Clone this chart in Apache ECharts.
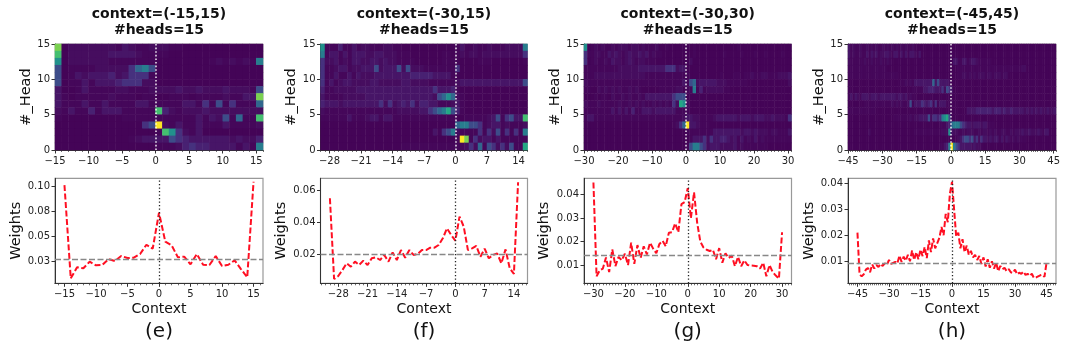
<!DOCTYPE html>
<html><head><meta charset="utf-8">
<style>html,body{margin:0;padding:0;background:#fff}#c{width:1073px;height:345px}</style>
<script src="https://cdn.jsdelivr.net/npm/echarts@6/dist/echarts.min.js"></script>
</head><body><div id="c"></div>
<script>
const titles = ["context=(-15,15)\n#heads=15","context=(-30,15)\n#heads=15","context=(-30,30)\n#heads=15","context=(-45,45)\n#heads=15"];
const captions = ["(e)","(f)","(g)","(h)"];
const ranges = [[-15,15],[-30,15],[-30,30],[-45,45]];
const xTicks = [[-15,-10,-5,0,5,10,15],[-28,-21,-14,-7,0,7,14],[-30,-20,-10,0,10,20,30],[-45,-30,-15,0,15,30,45]];
const headTicks = [0,5,10,15];
const weightTicks = [[0.025,0.05,0.075,0.1],[0.02,0.04,0.06],[0.01,0.02,0.03,0.04],[0.01,0.02,0.03,0.04]];
const weightLabels = [["0.03","0.05","0.08","0.10"],["0.02","0.04","0.06"],["0.01","0.02","0.03","0.04"],["0.01","0.02","0.03","0.04"]];
const weightRange = [[0.0036,0.1076],[0.0015,0.0678],[0.0022,0.047],[0.00154,0.0419]];
const lineRange = [[-16.5,16.5],[-32.25,17.25],[-33,33],[-49.5,49.5]];
const meanWeight = [0.0277,0.02,0.0143,0.0094];

const weightsE = [.1009,.0085,.0195,.0185,.025,.0214,.0217,.0276,.0257,.0306,.0286,.029,.0326,.0418,.0379,.0735,.0448,.0412,.0293,.03,.0224,.0326,.022,.0217,.0306,.0207,.022,.0263,.0177,.0095,.1042];
const weightsF = [.0552,.0042,.0061,.0099,.0141,.012,.0152,.0131,.0158,.013,.0173,.0179,.0162,.0194,.0152,.021,.0162,.0225,.0177,.0225,.0194,.02,.0225,.0225,.024,.024,.0257,.0299,.0362,.032,.0284,.0436,.0373,.0225,.0236,.0251,.0183,.0234,.0173,.0194,.0204,.0141,.0229,.011,.0074,.0653];
const weightsG = [.0452,.0052,.0077,.0085,.0132,.0070,.0167,.0095,.0135,.0120,.0148,.0100,.0195,.0105,.0185,.0130,.0180,.0145,.0195,.0170,.0150,.0190,.0203,.0180,.0238,.0240,.0278,.0240,.0360,.0368,.0428,.0300,.0410,.0280,.0200,.0175,.0165,.0160,.0165,.0125,.0172,.0110,.0150,.0130,.0140,.0095,.0135,.0095,.0120,.0100,.0098,.0097,.0095,.0085,.0110,.0052,.0100,.0070,.0055,.0042,.0240];
const weightsH = [.0210,.0050,.0042,.0050,.0068,.0074,.0058,.0088,.0072,.0086,.0078,.0090,.0082,.0092,.0086,.0105,.0090,.0094,.0098,.0092,.0122,.0098,.0118,.0102,.0125,.0100,.0142,.0105,.0135,.0108,.0145,.0120,.0155,.0112,.0180,.0135,.0188,.0150,.0170,.0190,.0232,.0200,.0282,.0250,.0360,.0405,.0300,.0195,.0210,.0150,.0185,.0135,.0160,.0125,.0140,.0115,.0125,.0105,.0120,.0090,.0115,.0080,.0108,.0075,.0100,.0072,.0095,.0062,.0082,.0070,.0075,.0062,.0070,.0058,.0055,.0068,.0050,.0056,.0052,.0060,.0048,.0052,.0044,.0052,.0036,.0038,.0042,.0046,.0048,.0040,.0095];

// intensity lookup for the heat rows below (one character per cell)
const levels = {0:.008,1:.018,2:.032,3:.055,4:.09,5:.14,6:.23,7:.33,8:.42,9:.5,a:.6,b:.7,c:.8,d:.9,e:1};
// rows listed top (head 14) to bottom (head 0); "|" marks context 0
const heatE = [
"c02222222132112|2211",
"b02222223333211|11",
"902222221111111|0000000012121218",
"601111222225786|",
"601323334235551|",
"601131333455522|",
"300131111221112|2223223222322216",
"310111112111011|001110111121133c",
"311131131111331|1111331516151117",
"213114133311111|b421222322222222",
"100000000011111|111111313261711b",
"000000000000056|e213113111311112",
"|1b95213",
"000000000001233|3365433333323224",
"|1112454433331318"];
const heatF = [
"911141131221112211|1311211211122228",
"813313133322332221110000000110|1212212222222225",
"522312133223323221111000000111|1000011100000001",
"511233122333623336262221111111|5",
"511311313222333333334444433331|",
"513123322223322222332222111111|2333333333333336",
"411222223333333333333333353334|1",
"311112222233333333333333326797|21",
"433323333333352523435244331112|31",
"2111111111111111122222335678a6|41",
"111111311123313311111111111111|001111123615633b",
"|7886651233121112",
"000000000000000000000000031568|2111151526151518",
"|1ec1523313111111",
"000000000000000000111111111111|112527165252611a"];
const heatG = [
"901212112122212212111200100000|0010000000000001",
"511221132321232232312110000|00100000000100001000100100001",
"50121121322123212211100000000|02",
"111111111122222233333333555233|",
"111222222222222222111111111111|1000000000100011011211221112223",
"211111111111111111111111111113|1672333332221111110000000000002",
"11002121212112121000001111122|1181412222211",
"000101102112121121333333335666|",
"2111211111211212121121212152a9|2",
"111111113131314113332333333111|1",
"133111111111111111111111111112|3322111123333332333233322322215",
"000000000000000000000000001257|e332111",
"|1111111133333333233232221221113",
"|0133352533443231312131211111111",
"|168865233322223121111111"];
const heatH = [
"31211211212121121212121212112|",
"31211211313231223321331313133213|1",
"211111121121112112100000|033113312332111111",
"11111111111111111|000111111111111111111111111111122",
"1111111111111111111111|0001122121212221221222122",
"000000000000000000000001121213333333373633332 1|",
"000000000000000000000000000011111334443335265|3",
"131321333233323333333233231211|1",
"000000011111111111121212112613335434515133311|1",
"111111111111|0000000333344444443444343343333323232323223223",
"000000000000000000001111111212233336255458 9a6|1",
"000000000000000000000000000000000000000011134|7888654332333233111",
"000000000200000000000000000001111111111112229a|3221121222112122121211221121222322322232133",
"|001235665635253323233131321212111",
"000000000000000000000000000000000000000011348|e8653333323221"].map(r=>r.replace(" ",""));

const viridis = ['#440154','#471365','#482475','#463480','#414487','#3b528b','#355f8d','#2f6c8e','#2a788e','#25848e','#21918c','#1e9c89','#22a884','#2fb47c','#44bf70','#5ec962','#7ad151','#9bd93c','#bddf26','#dfe318','#fde725'];

const allRows = [heatE,heatF,heatG,heatH];
const allWeights = [weightsE,weightsF,weightsG,weightsH];
const lefts = [55,320.5,584,848];
const widths = [208,207,207.5,208];
const headGap = [20,21,21,20];
const weightGap = [31,32,32,31];
const font = 'DejaVu Sans';

function heatCells(rows, lo, hi){
  const nL = -lo, nR = hi+1, out = [];
  rows.forEach((r,ri)=>{
    const p = r.split("|");
    const s = p[0].padEnd(nL,'0').slice(0,nL) + (p[1]||"").padEnd(nR,'0').slice(0,nR);
    for(let i=0;i<s.length;i++) out.push([i,14-ri,levels[s[i]]]);
  });
  return out;
}
const minus = v => String(v).replace('-','\u2212');
const seq = (a,b)=>{const o=[];for(let i=a;i<=b;i++)o.push(i);return o;};

const opt = {animation:false,backgroundColor:'#fff',textStyle:{fontFamily:font},
  title:[],grid:[],xAxis:[],yAxis:[],series:[],
  visualMap:{show:false,min:0,max:1,seriesIndex:[],inRange:{color:viridis}}};
const tickLabel = {fontFamily:font,fontSize:10,color:'#222'};
const nameText = {fontFamily:font,fontSize:14.5,color:'#111'};
const frame = {show:true,onZero:false,lineStyle:{color:'#333',width:1}};

function minorAxis(gi,lo,hi){
  opt.xAxis.push({type:'value',gridIndex:gi,position:'bottom',min:lo,max:hi,
    axisLine:{show:false,onZero:false},splitLine:{show:false},axisLabel:{show:false},
    axisTick:{show:true,length:2,customValues:seq(Math.ceil(lo),Math.floor(hi)),lineStyle:{color:'#333',width:.7}}});
}
function majorX(gi,lo,hi,ticks,name){
  opt.xAxis.push({type:'value',gridIndex:gi,position:'bottom',min:lo,max:hi,name:name,nameLocation:'middle',nameGap:19,nameTextStyle:Object.assign({},nameText,{fontSize:14}),
    axisLine:frame,splitLine:{show:false},
    axisTick:{show:true,length:3.5,customValues:ticks,lineStyle:{color:'#333',width:1}},
    axisLabel:Object.assign({customValues:ticks,formatter:minus,showMinLabel:true,showMaxLabel:true,margin:6},tickLabel)});
  return opt.xAxis.length-1;
}

ranges.forEach((rg,k)=>{
  const [lo,hi]=rg, L=lefts[k], W=widths[k];
  // ---- heatmap panel
  const g1 = opt.grid.length;
  opt.grid.push({left:L,top:44,width:W,height:106,show:true,borderColor:'#aaa',borderWidth:1,backgroundColor:'transparent'});
  const xc = opt.xAxis.length;
  opt.xAxis.push({type:'category',gridIndex:g1,position:'bottom',show:false,data:seq(lo,hi)});
  const yc = opt.yAxis.length;
  opt.yAxis.push({type:'category',gridIndex:g1,position:'left',show:false,data:seq(0,14)});
  const xv = majorX(g1,lo,hi+1,xTicks[k],'');
  minorAxis(g1,lo,hi+1);
  const yv = opt.yAxis.length;
  opt.yAxis.push({type:'value',gridIndex:g1,position:'left',min:0,max:15,name:'#_Head',nameLocation:'middle',nameGap:headGap[k],nameTextStyle:nameText,
    axisLine:frame,splitLine:{show:false},
    axisTick:{show:true,length:3.5,customValues:headTicks,lineStyle:{color:'#333'}},
    axisLabel:Object.assign({customValues:headTicks,showMinLabel:true,showMaxLabel:true,margin:5},tickLabel)});
  opt.visualMap.seriesIndex.push(opt.series.length);
  opt.series.push({type:'heatmap',xAxisIndex:xc,yAxisIndex:yc,data:heatCells(allRows[k],lo,hi),silent:true,progressive:0,itemStyle:{borderWidth:0}});
  opt.series.push({type:'line',xAxisIndex:xv,yAxisIndex:yv,data:[[0,0]],symbol:'none',silent:true,z:5,
    markLine:{silent:true,symbol:'none',label:{show:false},animation:false,
      lineStyle:{color:'#fff',type:[1.6,2],width:1.5,opacity:.9},data:[{xAxis:0}]}});
  // ---- weights panel
  const g2 = opt.grid.length;
  opt.grid.push({left:L,top:178.3,width:W,height:105,show:true,borderColor:'#999',borderWidth:1.2,backgroundColor:'transparent'});
  const [xl,xh]=lineRange[k];
  const xw = majorX(g2,xl,xh,xTicks[k],'Context');
  minorAxis(g2,xl,xh);
  const yw = opt.yAxis.length;
  const labs = weightLabels[k], tks = weightTicks[k];
  opt.yAxis.push({type:'value',gridIndex:g2,position:'left',min:weightRange[k][0],max:weightRange[k][1],name:'Weights',nameLocation:'middle',nameGap:weightGap[k],nameTextStyle:nameText,
    axisLine:frame,splitLine:{show:false},
    axisTick:{show:true,length:3.5,customValues:tks,lineStyle:{color:'#333'}},
    axisLabel:Object.assign({customValues:tks,margin:5,formatter:v=>labs[tks.findIndex(t=>Math.abs(t-v)<1e-6)]},tickLabel)});
  opt.series.push({type:'line',xAxisIndex:xw,yAxisIndex:yw,symbol:'none',silent:true,z:4,
    data:allWeights[k].map((v,i)=>[lo+i,v]),
    lineStyle:{color:'#ff0f22',width:2,type:[6,2.5]},
    markLine:{silent:true,symbol:'none',label:{show:false},animation:false,precision:6,
      data:[{xAxis:0,lineStyle:{color:'#222',type:[1.3,2.2],width:1.3}},
            {yAxis:meanWeight[k],lineStyle:{color:'#888',type:[6,2.5],width:1.4}}]}});
  // ---- texts
  opt.title.push({text:titles[k],left:L+W/2,top:6,padding:0,textAlign:'center',textStyle:{fontFamily:font,fontWeight:'bold',fontSize:14,lineHeight:16,color:'#111'}});
  opt.title.push({text:captions[k],left:L+W/2,top:322,padding:0,textAlign:'center',textStyle:{fontFamily:font,fontWeight:'normal',fontSize:20,color:'#111'}});
});
echarts.init(document.getElementById('c'),null,{renderer:'canvas'}).setOption(opt);
</script></body></html>
